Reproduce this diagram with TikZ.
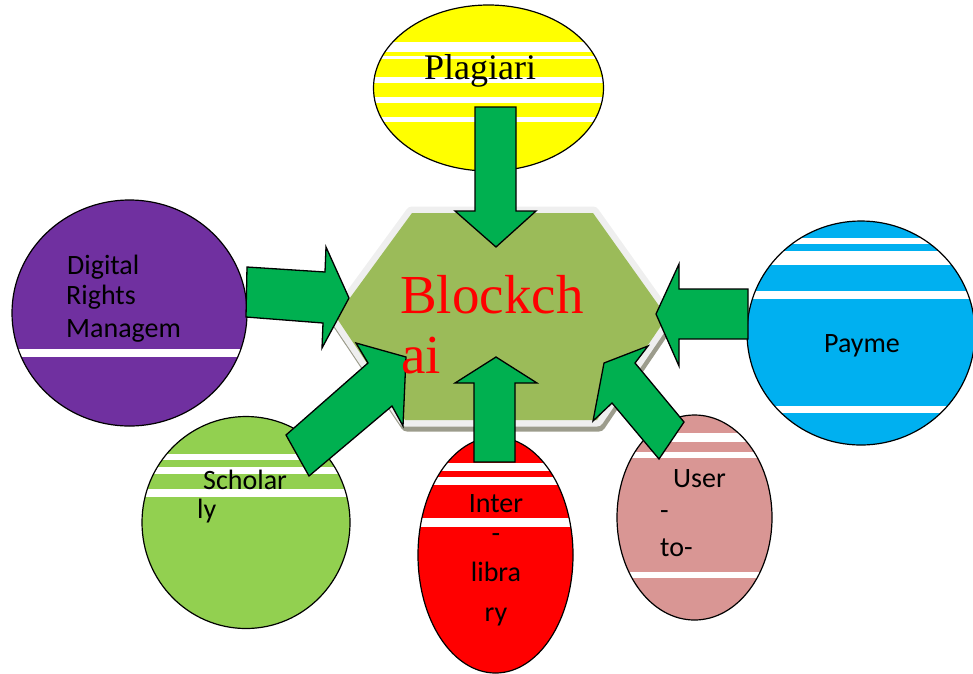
\documentclass[tikz,border=0pt]{standalone}
\usepackage{fontspec}
\newfontfamily\sansfnt{Carlito}
\newfontfamily\seriffnt{Liberation Serif}
\definecolor{arrowgreen}{HTML}{00B050}
\definecolor{hexgreen}{HTML}{9BBB59}
\definecolor{hexrim}{HTML}{EFEFEF}
\definecolor{hexshadow}{HTML}{9C9C8C}
\definecolor{purplefill}{HTML}{7030A0}
\definecolor{bluefill}{HTML}{00B0F0}
\definecolor{limefill}{HTML}{92D050}
\definecolor{redfill}{HTML}{FF0000}
\definecolor{pinkfill}{HTML}{D99694}
\definecolor{yellowfill}{HTML}{FFFF00}
\tikzset{
  blockarrow/.style={fill=arrowgreen, draw=black, line width=1.3pt, line join=miter},
  bubbleline/.style={draw=black, line width=1.2pt},
  stripe/.style={fill=white, draw=none},
  sanslabel/.style={font=\sansfnt\fontsize{28}{31}\selectfont, inner sep=0pt, text=black},
  seriflabel/.style={font=\seriffnt\fontsize{36}{40}\selectfont, inner sep=0pt, text=black},
  bigred/.style={font=\seriffnt\fontsize{55}{60}\selectfont, inner sep=0pt, text=redfill},
}
\begin{document}
\begin{tikzpicture}[x=1pt,y=-1pt]
\useasboundingbox (0,0) rectangle (973,673);

% ---------- Plagiari (yellow) ----------
\fill[yellowfill] (488.5,88) ellipse [x radius=115, y radius=83];
\begin{scope}
  \clip (488.5,88) ellipse [x radius=115, y radius=83];
  \fill[stripe] (370,42) rectangle (610,52);
  \fill[stripe] (370,56) rectangle (610,59);
  \fill[stripe] (370,77) rectangle (610,83);
  \fill[stripe] (370,97) rectangle (610,103);
  \fill[stripe] (370,117) rectangle (610,122);
\end{scope}
\draw[bubbleline] (488.5,88) ellipse [x radius=115, y radius=83];

% ---------- Digital Rights (purple) ----------
\fill[purplefill] (129.5,313) ellipse [x radius=117.5, y radius=113];
\begin{scope}
  \clip (129.5,313) ellipse [x radius=117.5, y radius=113];
  \fill[stripe] (0,349) rectangle (260,357);
\end{scope}
\draw[bubbleline] (129.5,313) ellipse [x radius=117.5, y radius=113];

% ---------- Payme (blue) ----------
\fill[bluefill] (861,333) ellipse [x radius=114, y radius=112];
\begin{scope}
  \clip (861,333) ellipse [x radius=114, y radius=112];
  \fill[stripe] (740,238) rectangle (980,244);
  \fill[stripe] (740,251) rectangle (980,265);
  \fill[stripe] (740,291) rectangle (980,299);
  \fill[stripe] (740,406) rectangle (980,413);
\end{scope}
\draw[bubbleline] (861,333) ellipse [x radius=114, y radius=112];

% ---------- Scholarly (lime) ----------
\fill[limefill] (246,522.5) ellipse [x radius=104, y radius=106];
\begin{scope}
  \clip (246,522.5) ellipse [x radius=104, y radius=106];
  \fill[stripe] (130,454) rectangle (360,460);
  \fill[stripe] (130,467) rectangle (360,474);
  \fill[stripe] (130,489) rectangle (360,497);
\end{scope}
\draw[bubbleline] (246,522.5) ellipse [x radius=104, y radius=106];

% ---------- Inter-library (red) ----------
\fill[redfill] (495.5,555) ellipse [x radius=77.5, y radius=118];
\begin{scope}
  \clip (495.5,555) ellipse [x radius=77.5, y radius=118];
  \fill[stripe] (410,463) rectangle (580,471);
  \fill[stripe] (410,477) rectangle (580,485);
  \fill[stripe] (410,518) rectangle (580,527);
\end{scope}
\draw[bubbleline] (495.5,555) ellipse [x radius=77.5, y radius=118];

% ---------- User-to (pink) ----------
\fill[pinkfill] (694.5,517.5) ellipse [x radius=77.5, y radius=102.5];
\begin{scope}
  \clip (694.5,517.5) ellipse [x radius=77.5, y radius=102.5];
  \fill[stripe] (610,433) rectangle (780,442);
  \fill[stripe] (610,452) rectangle (780,458);
  \fill[stripe] (610,572) rectangle (780,578);
\end{scope}
\draw[bubbleline] (694.5,517.5) ellipse [x radius=77.5, y radius=102.5];

% ---------- Hexagon ----------
\draw[hexshadow, line width=13pt, line join=round, fill=hexshadow]
  (414,218) -- (595,218) -- (669,322) -- (599,425) -- (407,425) -- (338,322) -- cycle;
\draw[hexrim, line width=13pt, line join=round, fill=hexrim]
  (412,213) -- (593,213) -- (667,317) -- (597,420) -- (405,420) -- (336,317) -- cycle;
\fill[hexgreen]
  (412,213) -- (593,213) -- (667,317) -- (597,420) -- (405,420) -- (336,317) -- cycle;

% ---------- Block arrows ----------
% from Plagiari (down)
\draw[blockarrow] (475,107) -- (516,107) -- (516,211) -- (536,211) -- (496,247)
  -- (455,211) -- (475,211) -- cycle;
% from Digital Rights (right)
\draw[blockarrow] (247,267) -- (325,272) -- (326,247) -- (349,298) -- (322,348)
  -- (323,323) -- (246,317) -- cycle;
% from Payme (left)
\draw[blockarrow] (748,289) -- (679,289) -- (679,264) -- (656,314) -- (679,366)
  -- (679,339) -- (748,339) -- cycle;
% from Scholarly (up-right)
\draw[blockarrow] (286,435) -- (368,363) -- (356,343) -- (406,357) -- (403,426)
  -- (392,406) -- (309,476) -- cycle;
% from Inter-library (up)
\draw[blockarrow] (474,462) -- (474,383) -- (455,383) -- (496,357) -- (537,383)
  -- (515,383) -- (515,462) -- cycle;
% from User-to (up-left)
\draw[blockarrow] (684,422) -- (635,363) -- (648,346) -- (604,363) -- (593,421)
  -- (612,403) -- (659,459) -- cycle;

% ---------- Texts ----------
\node[seriflabel, anchor=base west] (plag) at (424,79) {Plagiari};
\node[bigred, anchor=base west] (blk1) at (400,313) {Blockch};
\node[bigred, anchor=base west] (blk2) at (401,373) {ai};

\node[sanslabel, anchor=base west] (dig1) at (67,274) {Digital};
\node[sanslabel, anchor=base west] (dig2) at (66,304) {Rights};
\node[sanslabel, anchor=base west] (dig3) at (66,337) {Managem};

\node[sanslabel, anchor=base] (pay) at (862,352) {Payme};

\node[sanslabel, anchor=base west] (sch1) at (203,489) {Scholar};
\node[sanslabel, anchor=base west] (sch2) at (197,518) {ly};

\node[sanslabel, anchor=base] (int1) at (496,512) {Inter};
\node[sanslabel, anchor=base] (int2) at (496,542) {-};
\node[sanslabel, anchor=base] (int3) at (496,581) {libra};
\node[sanslabel, anchor=base] (int4) at (496,621) {ry};

\node[sanslabel, anchor=base west] (usr1) at (673,487) {User};
\node[sanslabel, anchor=base west] (usr2) at (660,519) {-};
\node[sanslabel, anchor=base west] (usr3) at (660,556) {to-};
\end{tikzpicture}
\end{document}
